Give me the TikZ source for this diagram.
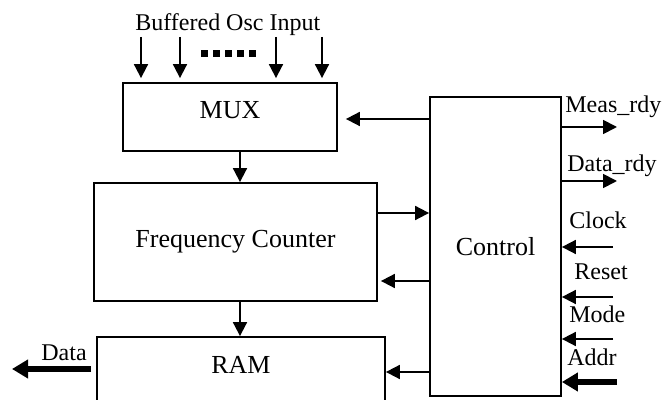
\documentclass[tikz,border=0pt]{standalone}
\usepackage{fontspec}
\setmainfont{Liberation Serif}
\usetikzlibrary{arrows.meta}

\begin{document}
\begin{tikzpicture}[x=0.5pt, y=-0.5pt,
    every node/.style={font=\fontsize{12}{14}\selectfont},
    block/.style={draw, line width=0.9pt, rectangle, inner sep=0pt, font=\fontsize{13}{15}\selectfont},
    arr/.style={line width=0.9pt, -{Triangle[length=7pt, width=7pt]}},
    bigarr/.style={line width=2.6pt, -{Triangle[length=8pt, width=9pt]}},
    sig/.style={anchor=base west, inner sep=0pt}]
    \useasboundingbox (0,0) rectangle (665,400);

    % Blocks
    \node[block, minimum width=107pt, minimum height=34pt, text depth=7pt] (mux) at (230,117) {MUX};
    \node[block, minimum width=141.5pt, minimum height=59pt] (fc) at (235.5,242) {Frequency Counter};
    \node[block, minimum width=144pt, minimum height=41.5pt, text depth=13.5pt] (ram) at (241,378.5) {RAM};
    \node[block, minimum width=65.5pt, minimum height=149.5pt] (ctrl) at (495.5,246.5) {Control};

    % Oscillator inputs
    \node[sig] (osclbl) at (135,31) {Buffered Osc Input};
    \foreach \x [count=\i] in {141,180,276,322} {
        \coordinate (osc\i) at (\x,37);
        \draw[arr, shorten >=2pt] (osc\i) -- (osc\i |- mux.north);
    }
    \coordinate (dotsl) at (201,54);
    \coordinate (dotsr) at (256,54);
    \draw[line width=3.5pt, dash pattern=on 3.5pt off 2.5pt] (dotsl) -- (dotsr);

    % Data path
    \coordinate (col) at (240,0);
    \draw[arr] (mux.south -| col) -- (fc.north -| col);
    \draw[arr] (fc.south -| col) -- (ram.north -| col);
    \coordinate (dataend) at (12,369);
    \draw[bigarr, shorten <=2.5pt] (ram.west |- dataend) -- (dataend);
    \node[sig] (datalbl) at (41,361) {Data};

    % Control links
    \coordinate (muxrow) at (0,119);
    \coordinate (fcout) at (0,213);
    \coordinate (fcin) at (0,281);
    \coordinate (ramrow) at (0,372);
    \draw[arr, shorten >=4pt] (ctrl.west |- muxrow) -- (mux.east |- muxrow);
    \draw[arr] (fc.east |- fcout) -- (ctrl.west |- fcout);
    \draw[arr, shorten >=1.5pt] (ctrl.west |- fcin) -- (fc.east |- fcin);
    \draw[arr] (ctrl.west |- ramrow) -- (ram.east |- ramrow);

    % Outside signals
    \coordinate (measout) at (617,127);
    \coordinate (rdyout) at (617,181);
    \coordinate (clkin) at (613,247);
    \coordinate (rstin) at (613,297);
    \coordinate (modein) at (613,339);
    \coordinate (addrin) at (617,382);
    \draw[arr] (ctrl.east |- measout) -- (measout);
    \draw[arr] (ctrl.east |- rdyout) -- (rdyout);
    \draw[arr] (clkin) -- (ctrl.east |- clkin);
    \draw[arr] (rstin) -- (ctrl.east |- rstin);
    \draw[arr] (modein) -- (ctrl.east |- modein);
    \draw[bigarr] (addrin) -- (ctrl.east |- addrin);
    \node[sig] (measlbl) at (565,113) {Meas\_rdy};
    \node[sig] (rdylbl) at (567,172) {Data\_rdy};
    \node[sig] (clklbl) at (569,229) {Clock};
    \node[sig] (rstlbl) at (574,280) {Reset};
    \node[sig] (modelbl) at (569,323) {Mode};
    \node[sig] (addrlbl) at (567,366) {Addr};
\end{tikzpicture}
\end{document}
